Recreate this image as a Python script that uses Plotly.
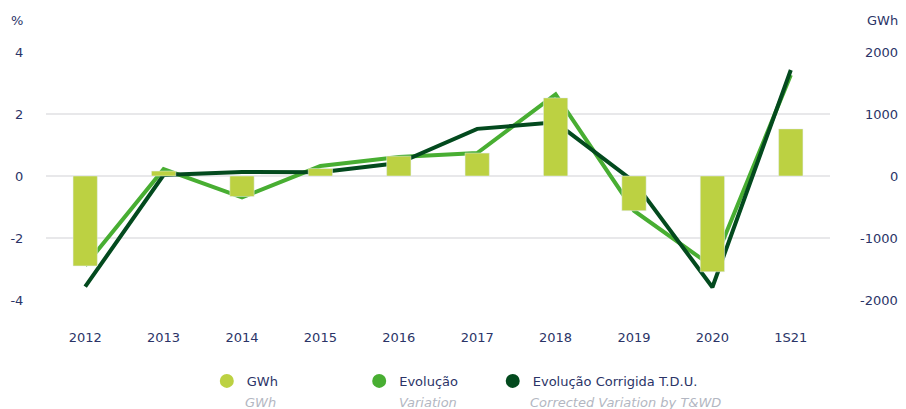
import plotly.graph_objects as go

categories = ["2012", "2013", "2014", "2015", "2016", "2017", "2018", "2019", "2020", "1S21"]
gwh = [-1450, 80, -330, 120, 320, 370, 1260, -560, -1545, 760]
evolucao = [-2.89, 0.22, -0.69, 0.32, 0.61, 0.74, 2.63, -1.12, -2.92, 3.26]
evolucao_corrigida = [-3.57, 0.03, 0.13, 0.12, 0.42, 1.52, 1.73, -0.18, -3.59, 3.42]
left_ticks = [-4, -2, 0, 2, 4]
right_ticks = [-2000, -1000, 0, 1000, 2000]
legend_main = ["GWh", "Evolução", "Evolução Corrigida T.D.U."]
legend_sub = ["GWh", "Variation", "Corrected Variation by T&WD"]

NAVY = "#2B3467"
GRAY = "#B3B7C2"
C_BAR = "#BCD142"
C_LIGHT = "#48AE32"
C_DARK = "#034A1E"
FONT = "DejaVu Sans"
FS = 13

fig = go.Figure()
fig.add_trace(go.Bar(x=categories, y=gwh, yaxis="y2", marker_color=C_BAR,
                     width=0.31, showlegend=False))
fig.add_trace(go.Scatter(x=categories, y=evolucao, mode="lines",
                         line=dict(color=C_LIGHT, width=4), showlegend=False))
fig.add_trace(go.Scatter(x=categories, y=evolucao_corrigida, mode="lines",
                         line=dict(color=C_DARK, width=4), showlegend=False))

legend_colors = [C_BAR, C_LIGHT, C_DARK]
legend_ids = ["legend", "legend2", "legend3"]
legend_x = [0.2051, 0.3995, 0.5698]
sub_x = [0.2513, 0.4477, 0.6150]
for main, col, lid in zip(legend_main, legend_colors, legend_ids):
    fig.add_trace(go.Scatter(
        x=[None], y=[None], mode="markers",
        marker=dict(symbol="circle", size=14, color=col),
        name=main, legend=lid, showlegend=True))

annotations = [
    dict(text="%", xref="paper", yref="paper", x=0, y=1, xshift=-29, yshift=32,
         xanchor="center", yanchor="middle", showarrow=False,
         font=dict(size=FS, color=NAVY, family=FONT)),
    dict(text="GWh", xref="paper", yref="paper", x=1, y=1, xshift=70, yshift=32,
         xanchor="right", yanchor="middle", showarrow=False,
         font=dict(size=FS, color=NAVY, family=FONT)),
]
for t in right_ticks:
    annotations.append(dict(text=str(t), xref="paper", yref="y2", x=1, y=t,
                            xshift=70, xanchor="right", yanchor="middle",
                            showarrow=False,
                            font=dict(size=FS, color=NAVY, family=FONT)))
for sub, sx in zip(legend_sub, sub_x):
    annotations.append(dict(text=f"<i>{sub}</i>", xref="paper", yref="paper",
                            x=sx, y=-0.413, xanchor="left", yanchor="middle",
                            showarrow=False,
                            font=dict(size=FS, color=GRAY, family=FONT)))

legend_common = dict(orientation="h", xanchor="left", y=-0.266, yanchor="top",
                     itemwidth=30, bgcolor="rgba(0,0,0,0)",
                     font=dict(size=FS, color=NAVY, family=FONT))

# The page body adds an 8px offset, so the figure is 8px smaller and margins shifted.
fig.update_layout(
    width=898, height=401,
    margin=dict(l=38, r=76, t=44, b=109, autoexpand=False),
    plot_bgcolor="white", paper_bgcolor="white",
    font=dict(family=FONT, size=FS, color=NAVY),
    xaxis=dict(type="category", showgrid=False, zeroline=False, showline=False,
               automargin=False,
               ticks="outside", ticklen=25, tickcolor="rgba(0,0,0,0)",
               tickfont=dict(size=FS, color=NAVY)),
    yaxis=dict(range=[-4, 4], tickvals=left_ticks,
               ticktext=[str(v) for v in left_ticks], showgrid=True,
               gridcolor="#E8E8EA", gridwidth=1.5, zeroline=False, showline=False,
               automargin=False,
               ticks="outside", ticklen=19, tickcolor="rgba(0,0,0,0)",
               tickfont=dict(size=FS, color=NAVY)),
    yaxis2=dict(range=[-2000, 2000], tickvals=right_ticks, overlaying="y",
                side="right", showgrid=False, zeroline=False, showline=False,
                showticklabels=False, automargin=False),
    legend=dict(x=legend_x[0], **legend_common),
    legend2=dict(x=legend_x[1], **legend_common),
    legend3=dict(x=legend_x[2], **legend_common),
    annotations=annotations,
)

fig.write_html("out.html")
